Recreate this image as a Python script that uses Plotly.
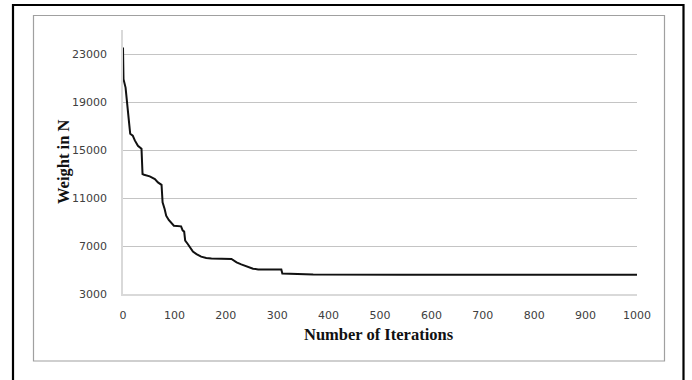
import plotly.graph_objects as go

# ---- data ----
iterations = [0, 1, 5, 8, 10, 12, 14, 19, 23, 29, 36, 38, 41, 52, 62, 68, 75, 77,
              81, 84, 89, 94, 99, 113, 116, 119, 121, 126, 130, 136, 143, 152, 162,
              172, 211, 214, 221, 230, 237, 243, 253, 263, 308, 310, 318, 344, 370,
              545, 666, 1000]
weights = [23550, 20900, 20200, 19100, 17900, 17200, 16350, 16200, 15800, 15350,
           15100, 13000, 12940, 12800, 12580, 12300, 12100, 10640, 10080, 9530,
           9170, 8970, 8690, 8640, 8300, 8200, 7450, 7170, 6890, 6530, 6330, 6110,
           6000, 5950, 5920, 5830, 5640, 5470, 5360, 5220, 5110, 5050, 5050, 4700,
           4690, 4660, 4620, 4610, 4600, 4600]
x_ticks = [0, 100, 200, 300, 400, 500, 600, 700, 800, 900, 1000]
y_ticks = [3000, 7000, 11000, 15000, 19000, 23000]
x_title = "Number of Iterations"
y_title = "Weight in N"

W, H = 692, 380
L, R, T, B = 123, 637, 30, 294  # plot area in pixels


def px(x):
    return (x - L) / (R - L)


def py(y):
    return (B - y) / (B - T)


fig = go.Figure()
fig.add_trace(go.Scatter(x=iterations, y=weights, mode="lines",
                         line=dict(color="#111111", width=2), showlegend=False))

tickfont = dict(family="DejaVu Sans", size=11, color="#404040")
fig.update_layout(
    width=W, height=H,
    margin=dict(l=L, r=W - R, t=T, b=H - B, autoexpand=False),
    paper_bgcolor="white", plot_bgcolor="white",
    xaxis=dict(range=[0, 1000], tickvals=x_ticks, tickformat="d", showgrid=False,
               showline=True, linecolor="#d9d9d9", linewidth=1.5, automargin=False,
               zeroline=False, ticks="", tickfont=tickfont, ticklabelstandoff=10),
    yaxis=dict(range=[3000, 25000], tickvals=y_ticks, tickformat="d", showgrid=True,
               gridcolor="#c4c4c4", gridwidth=1, automargin=False,
               showline=True, linecolor="#d9d9d9", linewidth=1.5,
               zeroline=False, ticks="", tickfont=tickfont, ticklabelstandoff=12),
    annotations=[
        dict(text="<b>" + x_title + "</b>", xref="paper", yref="paper",
             x=px(379), y=py(334), xanchor="center", yanchor="middle",
             showarrow=False,
             font=dict(family="Liberation Serif", size=16.5, color="#111111")),
        dict(text="<b>" + y_title + "</b>", xref="paper", yref="paper",
             x=px(63), y=py(162), xanchor="center", yanchor="middle",
             showarrow=False, textangle=-90,
             font=dict(family="Liberation Serif", size=16.5, color="#111111")),
    ],
    shapes=[
        dict(type="rect", xref="paper", yref="paper",
             x0=px(33.5), x1=px(664.5), y0=py(361), y1=py(15.5),
             line=dict(color="#a0a0a0", width=1.2)),
        dict(type="rect", xref="paper", yref="paper",
             x0=px(13), x1=px(683.5), y0=py(420), y1=py(5),
             line=dict(color="black", width=2.2)),
    ],
)

fig.write_html("out.html", config={"displayModeBar": False},
               post_script="document.body.style.margin='0';")
